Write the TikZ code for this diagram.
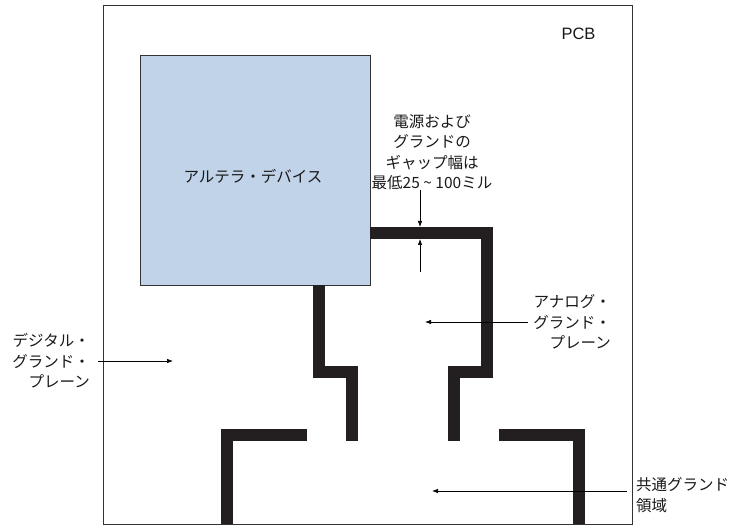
\documentclass[tikz,border=0pt]{standalone}
\usepackage{fontspec}
\setmainfont{Liberation Sans}
\newfontfamily\jp{Noto Sans CJK JP}
\usetikzlibrary{arrows.meta}
\definecolor{trace}{HTML}{231F20}
\definecolor{devfill}{HTML}{C0D3E8}
\definecolor{frame}{HTML}{333333}
\tikzset{
  lbl/.style={inner sep=0pt, font=\jp\fontsize{15.5}{20.5}\selectfont, text=black!90},
  tracepath/.style={draw=trace, line width=12pt, line join=miter, line cap=butt},
  callout/.style={draw=black, line width=0.7pt, -{Latex[length=6pt,width=4.5pt]}},
}
\begin{document}
\begin{tikzpicture}[x=1pt,y=-1pt]
\useasboundingbox (0,0) rectangle (735,526);
% PCB
\node[draw=frame, line width=0.8pt, minimum width=529pt, minimum height=519pt, inner sep=0pt, anchor=north west] (pcb) at (103,5) {};
\node[anchor=base, inner sep=0pt, font=\fontsize{16.5}{20}\selectfont, text=black!90] (pcbl) at (578.5,40) {PCB};
% device
\node[draw=frame, fill=devfill, line width=0.8pt, minimum width=230pt, minimum height=230pt, inner sep=0pt, anchor=north west] (dev) at (140,55) {};
\node[lbl] (devl) at (253,176) {アルテラ・デバイス};
% traces
\draw[tracepath] (319,285) -- (319,371.5) -- (352,371.5) -- (352,441);
\draw[tracepath] (370,233) -- (486.5,233) -- (486.5,371.5) -- (454,371.5) -- (454,441);
\draw[tracepath] (307,435) -- (227,435) -- (227,524);
\draw[tracepath] (499,435) -- (578.5,435) -- (578.5,524);
% labels
\node[lbl, align=center] (gap) at (432,152) {電源および\\グランドの\\ギャップ幅は\\最低25 \string~ 100ミル};
\node[lbl, align=right, anchor=east] (dig) at (90,361) {デジタル・\\グランド・\\プレーン};
\node[lbl, align=right, anchor=east] (ana) at (611,322) {アナログ・\\グランド・\\プレーン};
\node[lbl, align=left, anchor=west] (com) at (636,495) {共通グランド\\領域};
% arrow endpoints
\coordinate (g1s) at (420,190);
\coordinate (g1e) at (420,227);
\coordinate (g2s) at (420,272);
\coordinate (g2e) at (420,239);
\coordinate (ds) at (98,361);
\coordinate (de) at (173,361);
\coordinate (as) at (528,322);
\coordinate (ae) at (425,322);
\coordinate (cs) at (627,491);
\coordinate (ce) at (432,491);
\draw[callout] (g1s) -- (g1e);
\draw[callout] (g2s) -- (g2e);
\draw[callout] (ds) -- (de);
\draw[callout] (as) -- (ae);
\draw[callout] (cs) -- (ce);
\end{tikzpicture}
\end{document}
